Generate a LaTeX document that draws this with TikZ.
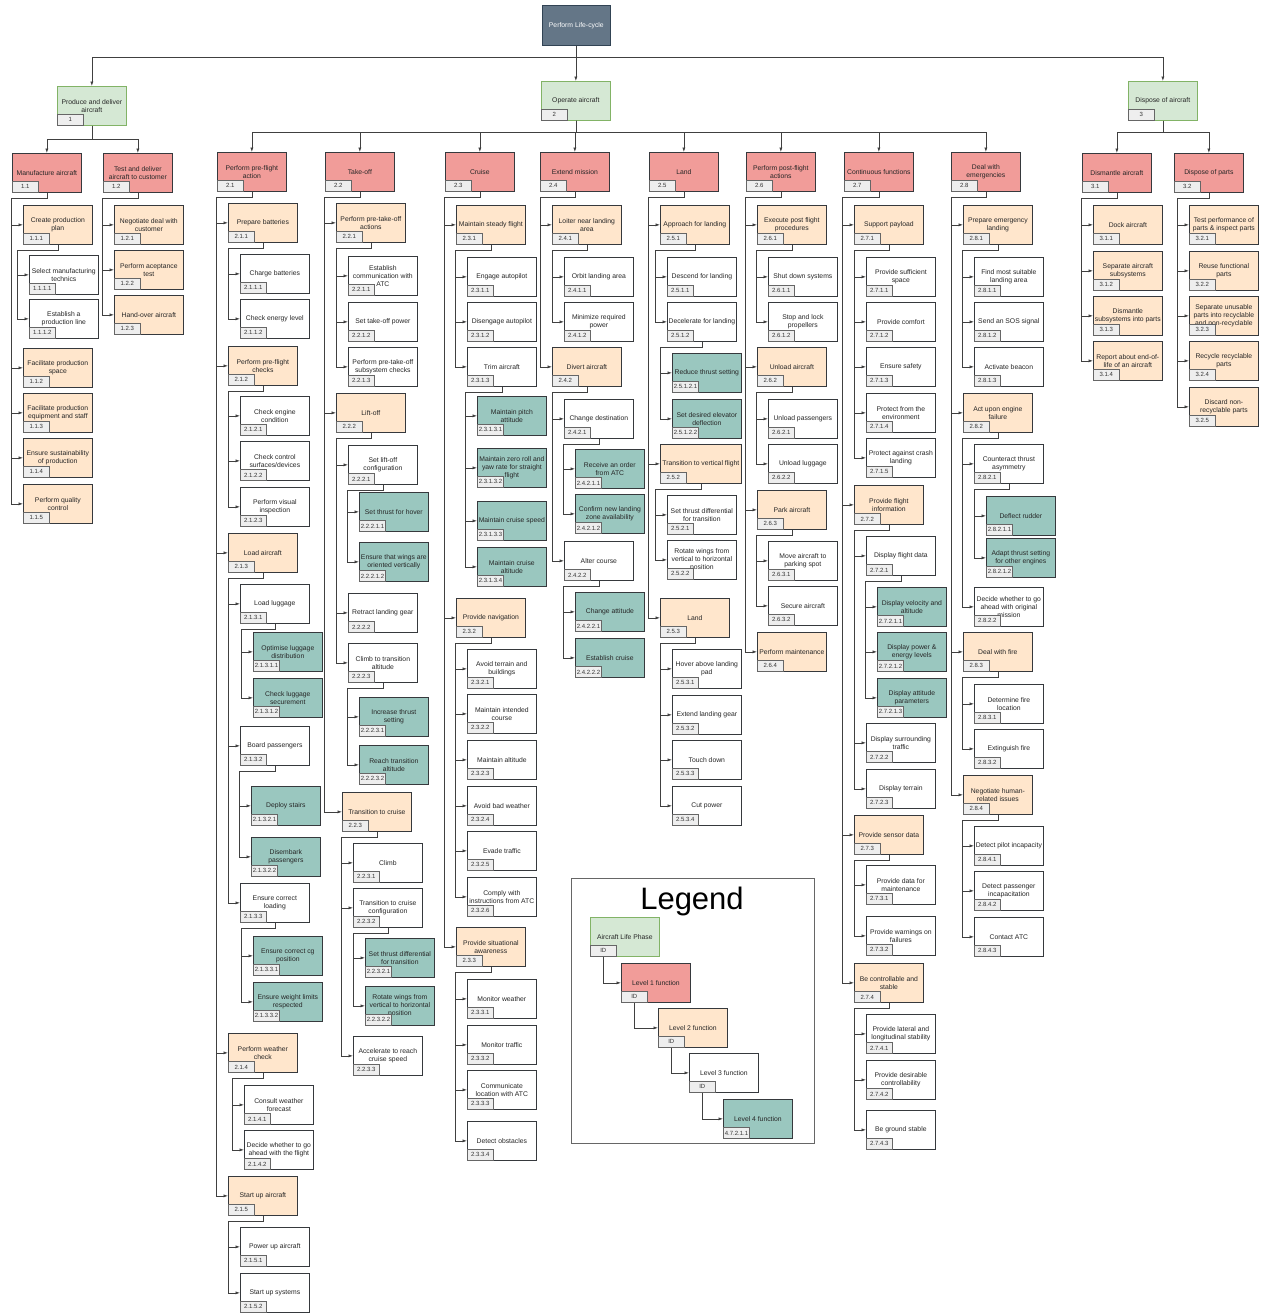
\documentclass[tikz,border=0pt]{standalone}
\usepackage{fontspec}
\setmainfont{Liberation Sans}
\usetikzlibrary{arrows.meta}

\definecolor{rootfill}{HTML}{647687}
\definecolor{rootline}{HTML}{314354}
\definecolor{phasefill}{HTML}{D5E8D4}
\definecolor{phaseline}{HTML}{82B366}
\definecolor{redfill}{HTML}{F19C99}
\definecolor{peachfill}{HTML}{FFE6CC}
\definecolor{tealfill}{HTML}{9AC7BF}
\definecolor{boxline}{HTML}{36393D}
\definecolor{idfill}{HTML}{EEEEEE}
\definecolor{idline}{HTML}{666666}
\definecolor{wire}{HTML}{404040}

% function box with its ID tag: name, style, x, y, text, id
\newcommand{\func}[6]{%
  \node[#2, anchor=north west] (#1) at (#3,#4) {#5};
  \node[idbox] (#1id) at (#1.south west) {#6};
}
% parent -> children, trunk left of the first child
\newcommand{\kids}[2]{%
  \foreach \c [count=\i] in {#2}{%
    \ifnum\i=1 \coordinate (tr) at ([xshift=-11.5pt]\c.west);\fi
    \draw[link] (#1.south) -- ++(0,6) coordinate (k) -- (k -| tr) |- (\c.west);
  }}
% phase -> level 1, arrows from above
\newcommand{\drop}[3]{%
  \foreach \c in {#3}{\draw[link] (#1.south) -- ++(0,#2) -| (\c.north);}}

\begin{document}
\begin{tikzpicture}[x=1pt, y=-1pt,
  fnbox/.style={draw=boxline, line width=0.7pt, minimum width=69pt, minimum height=39pt,
    inner sep=1pt, align=center, font=\fontsize{6.8}{8.1}\selectfont, text=black!85},
  lvl1/.style={fnbox, fill=redfill},
  lvl2/.style={fnbox, fill=peachfill},
  lvl3/.style={fnbox, fill=white},
  lvl4/.style={fnbox, fill=tealfill},
  phase/.style={fnbox, fill=phasefill, draw=phaseline},
  top/.style={fnbox, fill=rootfill, draw=rootline, text=white, minimum width=68pt, minimum height=40pt},
  idbox/.style={draw=idline, fill=idfill, line width=0.6pt, minimum width=26pt, minimum height=11pt,
    inner sep=1.5pt, font=\fontsize{6}{6}\selectfont, text=black!80, anchor=south west},
  link/.style={draw=wire, line width=0.7pt, -{Latex[length=4.5pt,width=3.2pt]}}]

\fill[white] (0,0) rectangle (1268,1314);
\useasboundingbox (0,0) rectangle (1268,1314);

\node[top, anchor=north west] (root) at (542,5) {Perform Life-cycle};
\func{ph1}{phase}{57}{86}{Produce and deliver\\aircraft}{1}
\func{ph2}{phase}{541}{81}{Operate aircraft}{2}
\func{ph3}{phase}{1128}{81}{Dispose of aircraft}{3}

%% produce and deliver
\func{f11}{lvl1}{12}{153}{Manufacture aircraft}{1.1}
\func{f111}{lvl2}{23}{205}{Create production\\plan}{1.1.1}
\func{f1111}{lvl3}{29}{255}{Select manufacturing\\technics}{1.1.1.1}
\func{f1112}{lvl3}{29}{299}{Establish a\\production line}{1.1.1.2}
\func{f112}{lvl2}{23}{348}{Facilitate production\\space}{1.1.2}
\func{f113}{lvl2}{23}{393}{Facilitate production\\equipment and staff}{1.1.3}
\func{f114}{lvl2}{23}{438}{Ensure sustainability\\of production}{1.1.4}
\func{f115}{lvl2}{23}{484}{Perform quality\\control}{1.1.5}

\func{f12}{lvl1}{103}{153}{Test and deliver\\aircraft to customer}{1.2}
\func{f121}{lvl2}{114}{205}{Negotiate deal with\\customer}{1.2.1}
\func{f122}{lvl2}{114}{250}{Perform aceptance\\test}{1.2.2}
\func{f123}{lvl2}{114}{295}{Hand-over aircraft}{1.2.3}

%% operate
\func{f21}{lvl1}{217}{152}{Perform pre-flight\\action}{2.1}
\func{f211}{lvl2}{228}{203}{Prepare batteries}{2.1.1}
\func{f2111}{lvl3}{240}{254}{Charge batteries}{2.1.1.1}
\func{f2112}{lvl3}{240}{299}{Check energy level}{2.1.1.2}
\func{f212}{lvl2}{228}{346}{Perform pre-flight\\checks}{2.1.2}
\func{f2121}{lvl3}{240}{396}{Check engine\\condition}{2.1.2.1}
\func{f2122}{lvl3}{240}{441}{Check control\\surfaces/devices}{2.1.2.2}
\func{f2123}{lvl3}{240}{487}{Perform visual\\inspection}{2.1.2.3}
\func{f213}{lvl2}{228}{533}{Load aircraft}{2.1.3}
\func{f2131}{lvl3}{240}{584}{Load luggage}{2.1.3.1}
\func{f21311}{lvl4}{253}{632}{Optimise luggage\\distribution}{2.1.3.1.1}
\func{f21312}{lvl4}{253}{678}{Check luggage\\securement}{2.1.3.1.2}
\func{f2132}{lvl3}{240}{726}{Board passengers}{2.1.3.2}
\func{f21321}{lvl4}{251}{786}{Deploy stairs}{2.1.3.2.1}
\func{f21322}{lvl4}{251}{837}{Disembark\\passengers}{2.1.3.2.2}
\func{f2133}{lvl3}{240}{883}{Ensure correct\\loading}{2.1.3.3}
\func{f21331}{lvl4}{253}{936}{Ensure correct cg\\position}{2.1.3.3.1}
\func{f21332}{lvl4}{253}{982}{Ensure weight limits\\respected}{2.1.3.3.2}
\func{f214}{lvl2}{228}{1033}{Perform weather\\check}{2.1.4}
\func{f2141}{lvl3}{244}{1085}{Consult weather\\forecast}{2.1.4.1}
\func{f2142}{lvl3}{244}{1130}{Decide whether to go\\ahead with the flight}{2.1.4.2}
\func{f215}{lvl2}{228}{1176}{Start up aircraft}{2.1.5}
\func{f2151}{lvl3}{240}{1227}{Power up aircraft}{2.1.5.1}
\func{f2152}{lvl3}{240}{1273}{Start up systems}{2.1.5.2}

\func{f22}{lvl1}{325}{152}{Take-off}{2.2}
\func{f221}{lvl2}{336}{203}{Perform pre-take-off\\actions}{2.2.1}
\func{f2211}{lvl3}{348}{256}{Establish\\communication with\\ATC}{2.2.1.1}
\func{f2212}{lvl3}{348}{302}{Set take-off power}{2.2.1.2}
\func{f2213}{lvl3}{348}{347}{Perform pre-take-off\\subsystem checks}{2.2.1.3}
\func{f222}{lvl2}{336}{393}{Lift-off}{2.2.2}
\func{f2221}{lvl3}{348}{445}{Set lift-off\\configuration}{2.2.2.1}
\func{f22211}{lvl4}{359}{492}{Set thrust for hover}{2.2.2.1.1}
\func{f22212}{lvl4}{359}{542}{Ensure that wings are\\oriented vertically}{2.2.2.1.2}
\func{f2222}{lvl3}{348}{593}{Retract landing gear}{2.2.2.2}
\func{f2223}{lvl3}{348}{643}{Climb to transition\\altitude}{2.2.2.3}
\func{f22231}{lvl4}{359}{697}{Increase thrust\\setting}{2.2.2.3.1}
\func{f22232}{lvl4}{359}{745}{Reach transition\\altitude}{2.2.2.3.2}
\func{f223}{lvl2}{342}{792}{Transition to cruise}{2.2.3}
\func{f2231}{lvl3}{353}{843}{Climb}{2.2.3.1}
\func{f2232}{lvl3}{353}{888}{Transition to cruise\\configuration}{2.2.3.2}
\func{f22321}{lvl4}{365}{938}{Set thrust differential\\for transition}{2.2.3.2.1}
\func{f22322}{lvl4}{365}{986}{Rotate wings from\\vertical to horizontal\\position}{2.2.3.2.2}
\func{f2233}{lvl3}{353}{1036}{Accelerate to reach\\cruise speed}{2.2.3.3}

\func{f23}{lvl1}{445}{152}{Cruise}{2.3}
\func{f231}{lvl2}{456}{205}{Maintain steady flight}{2.3.1}
\func{f2311}{lvl3}{467}{257}{Engage autopilot}{2.3.1.1}
\func{f2312}{lvl3}{467}{302}{Disengage autopilot}{2.3.1.2}
\func{f2313}{lvl3}{467}{347}{Trim aircraft}{2.3.1.3}
\func{f23131}{lvl4}{477}{396}{Maintain pitch\\attitude}{2.3.1.3.1}
\func{f23132}{lvl4}{477}{448}{Maintain zero roll and\\yaw rate for straight\\flight}{2.3.1.3.2}
\func{f23133}{lvl4}{477}{501}{Maintain cruise speed}{2.3.1.3.3}
\func{f23134}{lvl4}{477}{547}{Maintain cruise\\altitude}{2.3.1.3.4}
\func{f232}{lvl2}{456}{598}{Provide navigation}{2.3.2}
\func{f2321}{lvl3}{467}{649}{Avoid terrain and\\buildings}{2.3.2.1}
\func{f2322}{lvl3}{467}{694}{Maintain intended\\course}{2.3.2.2}
\func{f2323}{lvl3}{467}{740}{Maintain altitude}{2.3.2.3}
\func{f2324}{lvl3}{467}{786}{Avoid bad weather}{2.3.2.4}
\func{f2325}{lvl3}{467}{831}{Evade traffic}{2.3.2.5}
\func{f2326}{lvl3}{467}{877}{Comply with\\instructions from ATC}{2.3.2.6}
\func{f233}{lvl2}{456}{927}{Provide situational\\awareness}{2.3.3}
\func{f2331}{lvl3}{467}{979}{Monitor weather}{2.3.3.1}
\func{f2332}{lvl3}{467}{1025}{Monitor traffic}{2.3.3.2}
\func{f2333}{lvl3}{467}{1070}{Communicate\\location with ATC}{2.3.3.3}
\func{f2334}{lvl3}{467}{1121}{Detect obstacles}{2.3.3.4}

\func{f24}{lvl1}{540}{152}{Extend mission}{2.4}
\func{f241}{lvl2}{552}{205}{Loiter near landing\\area}{2.4.1}
\func{f2411}{lvl3}{564}{257}{Orbit landing area}{2.4.1.1}
\func{f2412}{lvl3}{564}{302}{Minimize required\\power}{2.4.1.2}
\func{f242}{lvl2}{552}{347}{Divert aircraft}{2.4.2}
\func{f2421}{lvl3}{564}{399}{Change destination}{2.4.2.1}
\func{f24211}{lvl4}{575}{449}{Receive an order\\from ATC}{2.4.2.1.1}
\func{f24212}{lvl4}{575}{494}{Confirm new landing\\zone availability}{2.4.2.1.2}
\func{f2422}{lvl3}{564}{541}{Alter course}{2.4.2.2}
\func{f24221}{lvl4}{575}{592}{Change attitude}{2.4.2.2.1}
\func{f24222}{lvl4}{575}{638}{Establish cruise}{2.4.2.2.2}

\func{f25}{lvl1}{649}{152}{Land}{2.5}
\func{f251}{lvl2}{660}{205}{Approach for landing}{2.5.1}
\func{f2511}{lvl3}{667}{257}{Descend for landing}{2.5.1.1}
\func{f2512}{lvl3}{667}{302}{Decelerate for landing}{2.5.1.2}
\func{f25121}{lvl4}{672}{353}{Reduce thrust setting}{2.5.1.2.1}
\func{f25122}{lvl4}{672}{399}{Set desired elevator\\deflection}{2.5.1.2.2}
\func{f252}{lvl2, minimum width=81pt}{660}{444}{Transition to vertical flight}{2.5.2}
\func{f2521}{lvl3}{667}{495}{Set thrust differential\\for transition}{2.5.2.1}
\func{f2522}{lvl3}{667}{540}{Rotate wings from\\vertical to horizontal\\position}{2.5.2.2}
\func{f253}{lvl2}{660}{598}{Land}{2.5.3}
\func{f2531}{lvl3}{672}{649}{Hover above landing\\pad}{2.5.3.1}
\func{f2532}{lvl3}{672}{695}{Extend landing gear}{2.5.3.2}
\func{f2533}{lvl3}{672}{740}{Touch down}{2.5.3.3}
\func{f2534}{lvl3}{672}{786}{Cut power}{2.5.3.4}

\func{f26}{lvl1}{746}{152}{Perform post-flight\\actions}{2.6}
\func{f261}{lvl2}{757}{205}{Execute post flight\\procedures}{2.6.1}
\func{f2611}{lvl3}{768}{257}{Shut down systems}{2.6.1.1}
\func{f2612}{lvl3}{768}{302}{Stop and lock\\propellers}{2.6.1.2}
\func{f262}{lvl2}{757}{347}{Unload aircraft}{2.6.2}
\func{f2621}{lvl3}{768}{399}{Unload passengers}{2.6.2.1}
\func{f2622}{lvl3}{768}{444}{Unload luggage}{2.6.2.2}
\func{f263}{lvl2}{757}{490}{Park aircraft}{2.6.3}
\func{f2631}{lvl3}{768}{541}{Move aircraft to\\parking spot}{2.6.3.1}
\func{f2632}{lvl3}{768}{586}{Secure aircraft}{2.6.3.2}
\func{f264}{lvl2}{757}{632}{Perform maintenance}{2.6.4}

\func{f27}{lvl1}{844}{152}{Continuous functions}{2.7}
\func{f271}{lvl2}{854}{205}{Support payload}{2.7.1}
\func{f2711}{lvl3}{866}{257}{Provide sufficient\\space}{2.7.1.1}
\func{f2712}{lvl3}{866}{302}{Provide comfort}{2.7.1.2}
\func{f2713}{lvl3}{866}{347}{Ensure safety}{2.7.1.3}
\func{f2714}{lvl3}{866}{393}{Protect from the\\environment}{2.7.1.4}
\func{f2715}{lvl3}{866}{438}{Protect against crash\\landing}{2.7.1.5}
\func{f272}{lvl2}{854}{485}{Provide flight\\information}{2.7.2}
\func{f2721}{lvl3}{866}{536}{Display flight data}{2.7.2.1}
\func{f27211}{lvl4}{877}{587}{Display velocity and\\altitude}{2.7.2.1.1}
\func{f27212}{lvl4}{877}{632}{Display power \&\\energy levels}{2.7.2.1.2}
\func{f27213}{lvl4}{877}{678}{Display attitude\\parameters}{2.7.2.1.3}
\func{f2722}{lvl3}{866}{723}{Display surrounding\\traffic}{2.7.2.2}
\func{f2723}{lvl3}{866}{769}{Display terrain}{2.7.2.3}
\func{f273}{lvl2}{854}{815}{Provide sensor data}{2.7.3}
\func{f2731}{lvl3}{866}{865}{Provide data for\\maintenance}{2.7.3.1}
\func{f2732}{lvl3}{866}{916}{Provide warnings on\\failures}{2.7.3.2}
\func{f274}{lvl2}{854}{963}{Be controllable and\\stable}{2.7.4}
\func{f2741}{lvl3}{866}{1014}{Provide lateral and\\longitudinal stability}{2.7.4.1}
\func{f2742}{lvl3}{866}{1060}{Provide desirable\\controllability}{2.7.4.2}
\func{f2743}{lvl3}{866}{1110}{Be ground stable}{2.7.4.3}

\func{f28}{lvl1}{951}{152}{Deal with\\emergencies}{2.8}
\func{f281}{lvl2}{963}{205}{Prepare emergency\\landing}{2.8.1}
\func{f2811}{lvl3}{974}{257}{Find most suitable\\landing area}{2.8.1.1}
\func{f2812}{lvl3}{974}{302}{Send an SOS signal}{2.8.1.2}
\func{f2813}{lvl3}{974}{347}{Activate beacon}{2.8.1.3}
\func{f282}{lvl2}{963}{393}{Act upon engine\\failure}{2.8.2}
\func{f2821}{lvl3}{974}{444}{Counteract thrust\\asymmetry}{2.8.2.1}
\func{f28211}{lvl4}{986}{496}{Deflect rudder}{2.8.2.1.1}
\func{f28212}{lvl4}{986}{538}{Adapt thrust setting\\for other engines}{2.8.2.1.2}
\func{f2822}{lvl3}{974}{587}{Decide whether to go\\ahead with original\\mission}{2.8.2.2}
\func{f283}{lvl2}{963}{632}{Deal with fire}{2.8.3}
\func{f2831}{lvl3}{974}{684}{Determine fire\\location}{2.8.3.1}
\func{f2832}{lvl3}{974}{729}{Extinguish fire}{2.8.3.2}
\func{f284}{lvl2}{963}{775}{Negotiate human-\\related issues}{2.8.4}
\func{f2841}{lvl3}{974}{826}{Detect pilot incapacity}{2.8.4.1}
\func{f2842}{lvl3}{974}{871}{Detect passenger\\incapacitation}{2.8.4.2}
\func{f2843}{lvl3}{974}{917}{Contact ATC}{2.8.4.3}

%% dispose
\func{f31}{lvl1}{1082}{153}{Dismantle aircraft}{3.1}
\func{f311}{lvl2}{1093}{205}{Dock aircraft}{3.1.1}
\func{f312}{lvl2}{1093}{251}{Separate aircraft\\subsystems}{3.1.2}
\func{f313}{lvl2}{1093}{296}{Dismantle\\subsystems into parts}{3.1.3}
\func{f314}{lvl2}{1093}{341}{Report about end-of-\\life of an aircraft}{3.1.4}
\func{f32}{lvl1}{1174}{153}{Dispose of parts}{3.2}
\func{f321}{lvl2}{1189}{205}{Test performance of\\parts \& inspect parts}{3.2.1}
\func{f322}{lvl2}{1189}{251}{Reuse functional\\parts}{3.2.2}
\func{f323}{lvl2}{1189}{296}{Separate unusable\\parts into recyclable\\and non-recyclable}{3.2.3}
\func{f324}{lvl2}{1189}{341}{Recycle recyclable\\parts}{3.2.4}
\func{f325}{lvl2}{1189}{387}{Discard non-\\recyclable parts}{3.2.5}

%% connectors
\drop{root}{12}{ph1,ph2,ph3}
\drop{ph1}{14}{f11,f12}
\drop{ph2}{12}{f21,f22,f23,f24,f25,f26,f27,f28}
\drop{ph3}{12}{f31,f32}

\kids{f11}{f111,f112,f113,f114,f115}
\kids{f111}{f1111,f1112}
\kids{f12}{f121,f122,f123}

\kids{f21}{f211,f212,f213,f214,f215}
\kids{f211}{f2111,f2112}
\kids{f212}{f2121,f2122,f2123}
\kids{f213}{f2131,f2132,f2133}
\kids{f2131}{f21311,f21312}
\kids{f2132}{f21321,f21322}
\kids{f2133}{f21331,f21332}
\kids{f214}{f2141,f2142}
\kids{f215}{f2151,f2152}

\kids{f22}{f221,f222,f223}
\kids{f221}{f2211,f2212,f2213}
\kids{f222}{f2221,f2222,f2223}
\kids{f2221}{f22211,f22212}
\kids{f2223}{f22231,f22232}
\kids{f223}{f2231,f2232,f2233}
\kids{f2232}{f22321,f22322}

\kids{f23}{f231,f232,f233}
\kids{f231}{f2311,f2312,f2313}
\kids{f2313}{f23131,f23132,f23133,f23134}
\kids{f232}{f2321,f2322,f2323,f2324,f2325,f2326}
\kids{f233}{f2331,f2332,f2333,f2334}

\kids{f24}{f241,f242}
\kids{f241}{f2411,f2412}
\kids{f242}{f2421,f2422}
\kids{f2421}{f24211,f24212}
\kids{f2422}{f24221,f24222}

\kids{f25}{f251,f252,f253}
\kids{f251}{f2511,f2512}
\kids{f2512}{f25121,f25122}
\kids{f252}{f2521,f2522}
\kids{f253}{f2531,f2532,f2533,f2534}

\kids{f26}{f261,f262,f263,f264}
\kids{f261}{f2611,f2612}
\kids{f262}{f2621,f2622}
\kids{f263}{f2631,f2632}

\kids{f27}{f271,f272,f273,f274}
\kids{f271}{f2711,f2712,f2713,f2714,f2715}
\kids{f272}{f2721,f2722,f2723}
\kids{f2721}{f27211,f27212,f27213}
\kids{f273}{f2731,f2732}
\kids{f274}{f2741,f2742,f2743}

\kids{f28}{f281,f282,f283,f284}
\kids{f281}{f2811,f2812,f2813}
\kids{f282}{f2821,f2822}
\kids{f2821}{f28211,f28212}
\kids{f283}{f2831,f2832}
\kids{f284}{f2841,f2842,f2843}

\kids{f31}{f311,f312,f313,f314}
\kids{f32}{f321,f322,f323,f324,f325}

%% legend
\node[draw=idline, line width=0.6pt, minimum width=243pt, minimum height=265pt, anchor=north west] (legbox) at (571,878) {};
\node[font=\fontsize{31}{31}\selectfont] (legtitle) at (692,901) {Legend};
\func{lg0}{phase}{590}{917}{Aircraft Life Phase}{ID}
\func{lg1}{lvl1}{621}{963}{Level 1 function}{ID}
\func{lg2}{lvl2}{658}{1008}{Level 2 function}{ID}
\func{lg3}{lvl3}{689}{1053}{Level 3 function}{ID}
\func{lg4}{lvl4}{723}{1099}{Level 4 function}{4.7.2.1.1}
\draw[link] (lg0id.south) |- (lg1.west);
\draw[link] (lg1id.south) |- (lg2.west);
\draw[link] (lg2id.south) |- (lg3.west);
\draw[link] (lg3id.south) |- (lg4.west);

\end{tikzpicture}
\end{document}
